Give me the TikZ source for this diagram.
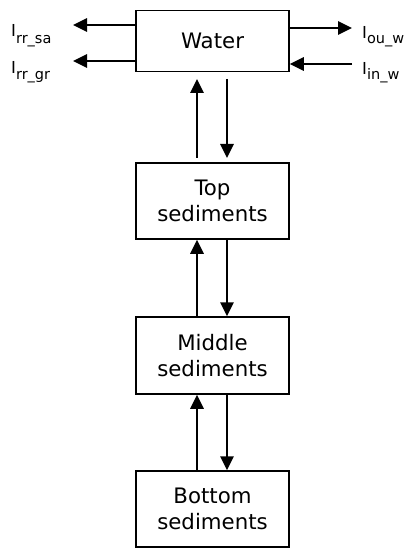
\documentclass[tikz,border=0pt]{standalone}
\usepackage{fontspec}
\setmainfont{DejaVu Sans}
\usetikzlibrary{arrows.meta}
\begin{document}
\begin{tikzpicture}[x=1pt,y=-1pt,
  comp/.style={draw, line width=1.5pt, minimum width=153pt, align=center,
    font=\fontsize{21.3}{26.5}\selectfont, inner sep=0pt},
  flow/.style={line width=2.8pt, -{Triangle[length=14pt,width=13pt]}},
  flux/.style={anchor=base west, inner sep=0pt}]
\useasboundingbox (0,0) rectangle (407,548);
\newcommand{\fluxlabel}[2]{{\fontsize{16.5}{18}\selectfont I}{\fontsize{14.5}{15}\selectfont\raisebox{#1}{#2}}}

% compartments
\node[comp, minimum height=61pt] (water) at (212.5,41) {Water};
\node[comp, minimum height=76pt] (top) at (212.5,201) {Top\\sediments};
\node[comp, minimum height=77pt] (mid) at (212.5,355.5) {Middle\\sediments};
\node[comp, minimum height=76pt] (bot) at (212.5,509) {Bottom\\sediments};

% free ends of the exchange arrows
\coordinate (sa) at (73,25);
\coordinate (gr) at (73,61);
\coordinate (ou) at (352,28);
\coordinate (in) at (352,64);
\coordinate (wu) at (197,79);
\coordinate (wd) at (227,79);
\coordinate (tu) at (197,158);
\coordinate (td) at (227,158);

% water exchanges
\draw[flow] (water.west |- sa) -- (sa);
\draw[flow] (water.west |- gr) -- (gr);
\draw[flow] (water.east |- ou) -- (ou);
\draw[flow] (in) -- (water.east |- in);

\node[flux] (lsa) at (11,37) {\fluxlabel{-6.5pt}{rr\_sa}};
\node[flux] (lgr) at (11,73.5) {\fluxlabel{-6.5pt}{rr\_gr}};
\node[flux] (lou) at (362,39) {\fluxlabel{-5pt}{ou\_w}};
\node[flux] (lin) at (362,75) {\fluxlabel{-5pt}{in\_w}};

% vertical exchanges
\draw[flow] (tu) -- (wu);
\draw[flow] (wd) -- (td);
\draw[flow] (mid.north -| tu) -- (top.south -| tu);
\draw[flow] (top.south -| td) -- (mid.north -| td);
\draw[flow] (bot.north -| tu) -- (mid.south -| tu);
\draw[flow] (mid.south -| td) -- (bot.north -| td);
\end{tikzpicture}
\end{document}
